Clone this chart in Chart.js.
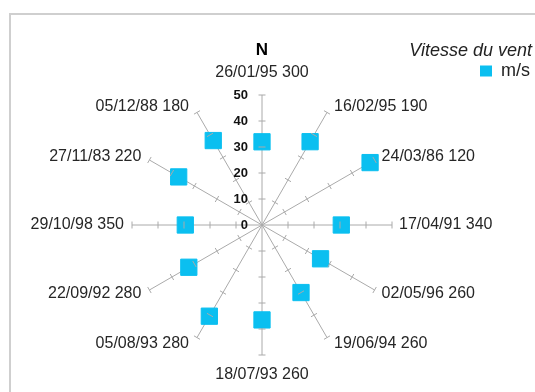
<!DOCTYPE html>
<html>
<head>
<meta charset="utf-8">
<script src="https://cdn.jsdelivr.net/npm/chart.js@4/dist/chart.umd.min.js"></script>
<style>
    html, body { margin: 0; padding: 0; background: #fff; }
    canvas { display: block; }
</style>
</head>
<body>
<canvas id="rose" width="535" height="392"></canvas>
<script>
// Données : date du relevé, direction (degrés) et vitesse du vent (m/s)
const dates = ['26/01/95', '16/02/95', '24/03/86', '17/04/91', '02/05/96', '19/06/94',
               '18/07/93', '05/08/93', '22/09/92', '29/10/98', '27/11/83', '05/12/88'];
const directions = [300, 190, 120, 340, 260, 260, 260, 280, 280, 350, 220, 180];
const vitesses = [32, 37, 48, 30.5, 26, 30, 36.5, 40.5, 32.5, 29.5, 37, 37.5];
const graduations = [0, 10, 20, 30, 40, 50];

const labels = dates.map((d, i) => d + ' ' + directions[i]);
const couleur = '#0bbff0';
const police = '"Liberation Sans", Arial, sans-serif';

// Place le centre et le rayon de la rose comme sur l'original
const fixCentre = {
    id: 'fixCentre',
    afterLayout(chart) {
        const s = chart.scales.r;
        s.xCenter = 262;
        s.yCenter = 225;
        s.drawingArea = 130;
    }
};

// Cadre, petites graduations, étiquettes et le "N"
const decor = {
    id: 'decor',
    beforeDraw(chart) {
        const ctx = chart.ctx;
        ctx.save();
        ctx.strokeStyle = '#cfcfcf';
        ctx.lineWidth = 2;
        ctx.strokeRect(10, 14, 600, 500);
        ctx.restore();
    },
    afterDraw(chart) {
        const s = chart.scales.r;
        const ctx = chart.ctx;
        const cx = s.xCenter, cy = s.yCenter;
        ctx.save();

        // graduations perpendiculaires sur chaque rayon
        ctx.strokeStyle = '#aaaaaa';
        ctx.lineWidth = 1;
        labels.forEach((l, i) => {
            graduations.slice(1).forEach(v => {
                const p = s.getPointPosition(i, s.getDistanceFromCenterForValue(v));
                const len = Math.hypot(p.x - cx, p.y - cy);
                const ux = -(p.y - cy) / len, uy = (p.x - cx) / len;
                ctx.beginPath();
                ctx.moveTo(p.x - ux * 3.5, p.y - uy * 3.5);
                ctx.lineTo(p.x + ux * 3.5, p.y + uy * 3.5);
                ctx.stroke();
            });
        });

        // valeurs de l'axe
        ctx.fillStyle = '#111';
        ctx.font = 'bold 13px ' + police;
        ctx.textAlign = 'right';
        ctx.textBaseline = 'middle';
        graduations.forEach(v => {
            ctx.fillText(String(v), cx - 14, cy - s.getDistanceFromCenterForValue(v));
        });

        // étiquettes des rayons
        ctx.fillStyle = '#262626';
        ctx.font = '16px ' + police;
        labels.forEach((l, i) => {
            const p = s.getPointPosition(i, s.drawingArea);
            const dx = p.x - cx, dy = p.y - cy;
            if (Math.abs(dx) < 1) {
                ctx.textAlign = 'center';
                ctx.fillText(l, p.x, dy < 0 ? p.y - 22 : p.y + 20);
            } else if (dx > 0) {
                ctx.textAlign = 'left';
                ctx.fillText(l, p.x + 7, p.y + dy * 0.05);
            } else {
                ctx.textAlign = 'right';
                ctx.fillText(l, p.x - 8, p.y + dy * 0.05);
            }
        });

        // le Nord
        ctx.fillStyle = '#000';
        ctx.font = 'bold 17px ' + police;
        ctx.textAlign = 'center';
        ctx.fillText('N', cx, 50);
        ctx.restore();
    }
};

const ctx = document.getElementById('rose').getContext('2d');
new Chart(ctx, {
    type: 'radar',
    data: {
        labels: labels,
        datasets: [{
            label: 'm/s',
            data: vitesses,
            showLine: false,
            fill: false,
            borderWidth: 0,
            backgroundColor: couleur,
            borderColor: couleur,
            pointStyle: 'rect',
            pointRadius: 11.5,
            pointHoverRadius: 11.5,
            pointBackgroundColor: couleur,
            pointBorderColor: couleur,
            pointBorderWidth: 1
        }]
    },
    options: {
        responsive: false,
        animation: false,
        layout: { padding: { right: 3 } },
        plugins: {
            title: {
                display: true,
                text: 'Vitesse du vent',
                align: 'end',
                color: '#222',
                font: { family: police, size: 18, style: 'italic', weight: 'normal', lineHeight: 1 },
                padding: { top: 42, bottom: 0 }
            },
            legend: {
                display: true,
                align: 'end',
                labels: {
                    color: '#222',
                    font: { family: police, size: 18 },
                    boxWidth: 12,
                    boxHeight: 11,
                    padding: 2
                }
            },
            tooltip: { enabled: false }
        },
        scales: {
            r: {
                min: graduations[0],
                max: graduations[graduations.length - 1],
                ticks: { display: false, stepSize: 10 },
                grid: { display: false },
                angleLines: { display: true, color: '#aaaaaa', lineWidth: 1 },
                pointLabels: { display: false }
            }
        }
    },
    plugins: [fixCentre, decor]
});
</script>
</body>
</html>
